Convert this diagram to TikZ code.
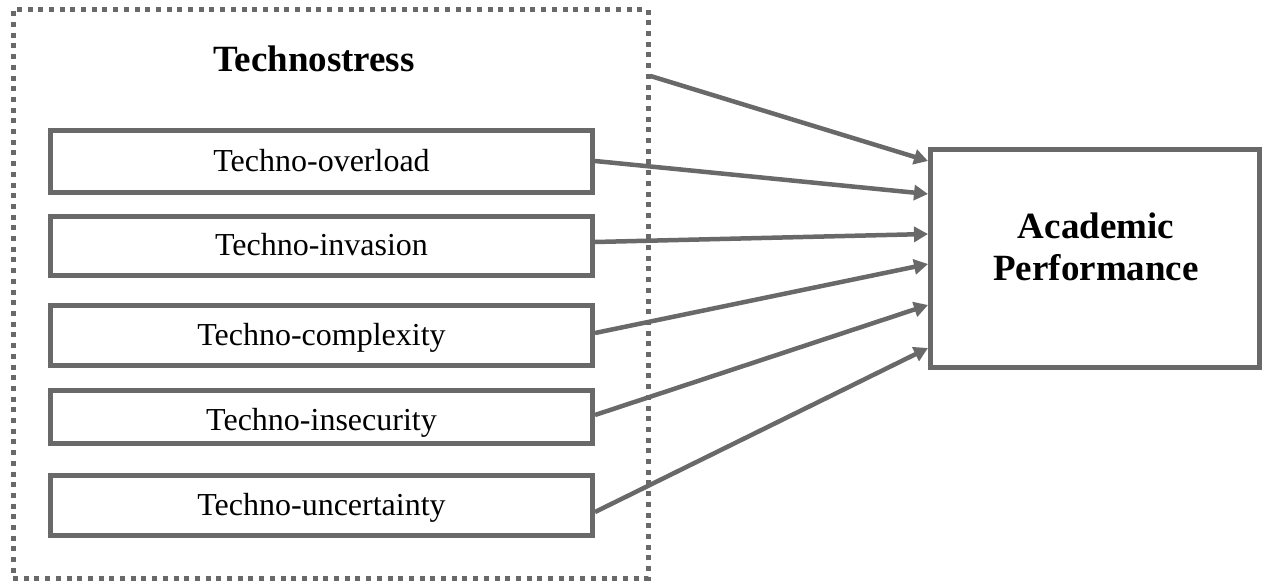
\documentclass[tikz,border=0pt]{standalone}
\usepackage{fontspec}
\setmainfont{Liberation Serif}
\usetikzlibrary{arrows.meta}
\definecolor{lg}{HTML}{696969}
\begin{document}
\begin{tikzpicture}[x=1pt,y=-1pt,
  factor/.style={draw=lg, line width=5pt, minimum width=542pt, inner sep=0pt,
    font=\fontsize{32}{38}\selectfont, text height=24pt, text depth=5pt},
  outerbox/.style={draw=lg, line width=5pt, dash pattern=on 5pt off 5.7pt,
    minimum width=635pt, minimum height=568.5pt, inner sep=0pt},
  result/.style={draw=lg, line width=5pt, minimum width=329pt, minimum height=218pt, inner sep=0pt},
  title/.style={font=\fontsize{37}{42}\selectfont\bfseries, align=center, inner sep=0pt},
  link/.style={draw=lg, line width=4.5pt, -{Triangle[length=14pt,width=15pt]}}
]
\useasboundingbox (0,0) rectangle (1265,583);

\node[outerbox] (ts) at (330.5,293.75) {};
\node[title, anchor=base] (tstitle) at (314,72) {Technostress};

\node[factor, minimum height=62pt] (b1) at (321.5,161.5) {Techno-overload};
\node[factor, minimum height=59pt] (b2) at (321.5,246) {Techno-invasion};
\node[factor, minimum height=60pt] (b3) at (321.5,335.5) {Techno-complexity};
\node[factor, minimum height=53pt, text height=26pt, text depth=0pt] (b4) at (321.5,417) {Techno-insecurity};
\node[factor, minimum height=60pt] (b5) at (321.5,505.5) {Techno-uncertainty};

\node[result] (ap) at (1095,258.5) {};
\node[title] (aptext) at (1096,246.5) {Academic\\Performance};

\draw[link] (ts.east |- 0,76) -- (ap.west |- 0,161);
\draw[link] (b1.east |- 0,161) -- (ap.west |- 0,194);
\draw[link] (b2.east |- 0,242) -- (ap.west |- 0,234);
\draw[link] (b3.east |- 0,333) -- (ap.west |- 0,264);
\draw[link] (b4.east |- 0,415) -- (ap.west |- 0,305);
\draw[link] (b5.east |- 0,512) -- (ap.west |- 0,348);
\end{tikzpicture}
\end{document}
